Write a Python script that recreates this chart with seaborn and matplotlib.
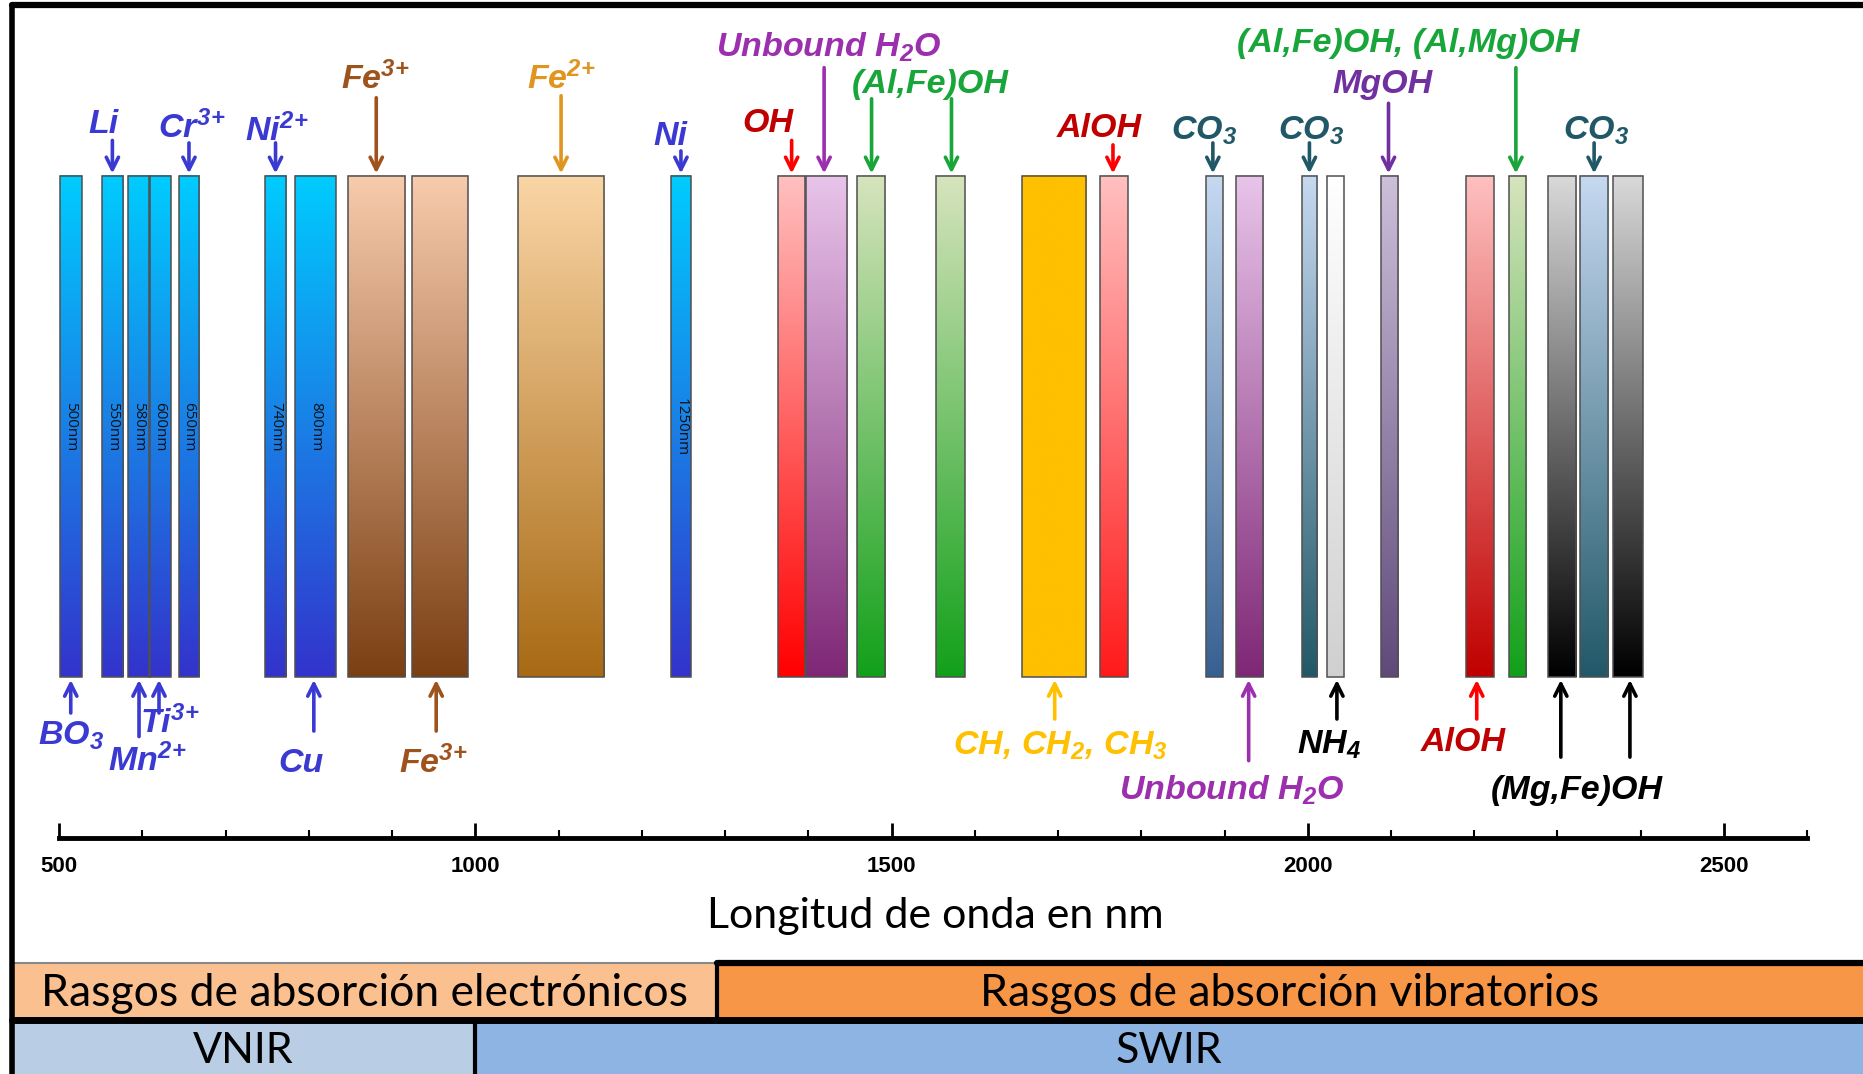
import numpy as np
import pandas as pd
import matplotlib
matplotlib.use('Agg')
import matplotlib.pyplot as plt
from matplotlib.colors import to_rgb
import seaborn as sns

# Bandas de absorcion: centro y ancho en nm
band_nm = [514, 564, 596, 621, 656, 760, 808, 881, 958, 1103, 1247,
           1380, 1422, 1475, 1571, 1695, 1767, 1888, 1930, 2002, 2033,
           2098, 2207, 2252, 2305, 2344, 2385]
band_width = [26, 26, 26, 26, 25, 26, 49, 69, 67, 104, 24,
              33, 50, 34, 34, 77, 33, 20, 33, 19, 20,
              21, 33, 21, 34, 34, 36]
band_tag = ['500nm', '550nm', '580nm', '600nm', '650nm', '740nm', '800nm', '', '', '', '1250nm',
            '', '', '', '', '', '', '', '', '', '',
            '', '', '', '', '', '']
# color arriba / abajo del degradado
band_top = ['#00CCFF'] * 7 + ['#F8CBAD', '#F8CBAD', '#FAD5A5', '#00CCFF',
            '#FFC0C0', '#E8C4EA', '#D7E4BD', '#D7E4BD', '#FFC000', '#FFC0C0',
            '#C6D9F1', '#E8C4EA', '#C6D9F1', '#FFFFFF', '#CCC0DA', '#FFC0C0',
            '#D7E4BD', '#D9D9D9', '#C6D9F1', '#D9D9D9']
band_bottom = ['#3333CC'] * 7 + ['#7B3F12', '#7B3F12', '#A86A14', '#3333CC',
               '#FF0000', '#7F2776', '#12A01A', '#12A01A', '#FFC000', '#FF1A1A',
               '#376092', '#7F2776', '#215868', '#D0D0D0', '#5F497A', '#C00000',
               '#12A01A', '#000000', '#215868', '#000000']

# Regiones del espectro
feature_names = ['Rasgos de absorción electrónicos', 'Rasgos de absorción vibratorios']
feature_edges = [443, 1290, 2667]
range_names = ['VNIR', 'SWIR']
range_edges = [443, 1000, 2667]

df = pd.DataFrame({'nm': band_nm, 'width': band_width, 'tag': band_tag,
                   'top': band_top, 'bottom': band_bottom})

sns.set_theme(style='white')
plt.rcParams['font.family'] = ['Liberation Sans', 'DejaVu Sans']
plt.rcParams['mathtext.fontset'] = 'custom'
for k in ['rm', 'it', 'bf', 'sf']:
    plt.rcParams['mathtext.' + k] = 'Liberation Sans:bold:italic'

fig = plt.figure(figsize=(18.63, 10.74), dpi=100)
ax = fig.add_axes([0, 0, 1, 1])
XLIM = (429, 2667)
YLIM = (-0.791, 1.351)

# barras con degradado vertical
bars = ax.bar(df['nm'], 1, width=df['width'], bottom=0, facecolor='none',
              edgecolor='#505050', linewidth=1.1, zorder=3)
for patch, (_, row) in zip(bars, df.iterrows()):
    c_top = np.array(to_rgb(row['top']))
    c_bot = np.array(to_rgb(row['bottom']))
    t = np.linspace(0, 1, 256)[:, None]
    grad = (c_bot * (1 - t) + c_top * t)[:, None, :]
    x0 = patch.get_x()
    ax.imshow(grad, extent=(x0, x0 + patch.get_width(), 0, 1), origin='lower',
              aspect='auto', interpolation='bilinear', zorder=2)
    if row['tag']:
        ax.text(row['nm'], 0.5, row['tag'], rotation=270, ha='center', va='center',
                fontsize=11, family='Open Sans', color='#111111', zorder=4)

blue = '#3A3AD2'
brown = '#9E521C'
orange = '#E0951F'
red_t = '#C00000'
purple = '#9B2FAE'
green = '#18A53A'
teal = '#215868'
mg = '#7030A0'
yellow = '#FFC000'


def label(txt, x, y, color, size=24.5):
    ax.text(x, y, txt, ha='center', va='center', fontsize=size, color=color,
            fontweight='bold', fontstyle='italic', family='Liberation Sans', zorder=5)


def arrow(x, y0, y1, color):
    ax.annotate('', xy=(x, y1), xytext=(x, y0),
                arrowprops=dict(arrowstyle='->', color=color, lw=2.6,
                                mutation_scale=22, shrinkA=0, shrinkB=0), zorder=5)


# etiquetas superiores
top_labels = [
    ('Li', 553, 1.102, blue, [564], 1.071),
    ('Cr$^{3\\!+}$', 659, 1.097, blue, [656], 1.066),
    ('Ni$^{2\\!+}$', 762, 1.09, blue, [760], 1.066),
    ('Fe$^{3\\!+}$', 880, 1.194, brown, [881], 1.156),
    ('Fe$^{2\\!+}$', 1104, 1.194, orange, [1103], 1.16),
    ('Ni', 1234, 1.078, blue, [1247], 1.05),
    ('OH', 1352, 1.104, red_t, [1380], 1.071),
    ('Unbound H$_2$O', 1424, 1.256, purple, [1419], 1.216),
    ('(Al,Fe)OH', 1546, 1.182, green, [1476, 1572], 1.154),
    ('AlOH', 1749, 1.095, red_t, [1766], 1.062),
    ('CO$_3$', 1875, 1.09, teal, [1886], 1.066),
    ('CO$_3$', 2004, 1.09, teal, [2002], 1.066),
    ('CO$_3$', 2346, 1.09, teal, [2344], 1.066),
    ('(Al,Fe)OH, (Al,Mg)OH', 2120, 1.265, green, [2250], 1.216),
    ('MgOH', 2090, 1.182, mg, [2097], 1.145),
]
arrow_col = {red_t: '#FF0000'}
for txt, x, y, c, xs, y0 in top_labels:
    label(txt, x, y, c)
    for xa in xs:
        arrow(xa, y0, 1.005, arrow_col.get(c, c))

# etiquetas inferiores
bottom_labels = [
    ('BO$_3$', 514, -0.117, blue, [514], -0.071),
    ('Ti$^{3\\!+}$', 633, -0.09, blue, [620], -0.071),
    ('Mn$^{2\\!+}$', 606, -0.166, blue, [596], -0.118),
    ('Cu', 790, -0.171, blue, [806], -0.107),
    ('Fe$^{3\\!+}$', 950, -0.171, brown, [953], -0.107),
    ('CH, CH$_2$, CH$_3$', 1703, -0.137, yellow, [1696], -0.083),
    ('Unbound H$_2$O', 1909, -0.225, purple, [1929], -0.166),
    ('NH$_4$', 2026, -0.135, 'black', [2035], -0.083),
    ('AlOH', 2187, -0.13, red_t, [2203], -0.083),
    ('(Mg,Fe)OH', 2323, -0.225, 'black', [2304, 2387], -0.159),
]
for txt, x, y, c, xs, y0 in bottom_labels:
    label(txt, x, y, c)
    for xa in xs:
        arrow(xa, y0, -0.005, arrow_col.get(c, c))

# titulo del eje
ax.text(1552, -0.476, 'Longitud de onda en nm', ha='center', va='center',
        fontsize=31, family='Lato', color='black')

# franjas inferiores
feat_cols = ['#FAC090', '#F79646']
for i, name in enumerate(feature_names):
    a, b = feature_edges[i], feature_edges[i + 1]
    ax.fill_between([a, b], -0.569, -0.683, color=feat_cols[i], lw=0, zorder=1)
    ax.text((a + b) / 2, -0.631, name, ha='center', va='center', fontsize=32,
            family='Lato', color='black')
range_cols = ['#B9CDE5', '#8EB4E3']
for i, name in enumerate(range_names):
    a, b = range_edges[i], range_edges[i + 1]
    ax.fill_between([a, b], -0.683, YLIM[0], color=range_cols[i], lw=0, zorder=1)
    ax.text((a + b) / 2, -0.746, name, ha='center', va='center', fontsize=31,
            family='Lato', color='black')

mid = feature_edges[1]
ax.plot([443, mid], [-0.569, -0.569], color='#888888', lw=1.5, zorder=6)
ax.plot([mid, 2667], [-0.569, -0.569], color='black', lw=4.5, zorder=6)
ax.plot([443, 2667], [-0.683, -0.683], color='black', lw=5, zorder=6)
ax.plot([mid, mid], [-0.569, -0.683], color='black', lw=3, zorder=6)
ax.plot([range_edges[1]] * 2, [-0.683, YLIM[0]], color='black', lw=3, zorder=6)
# marco
ax.plot([443, 443], [YLIM[0], 1.342], color='black', lw=4, zorder=6)
ax.plot([443, 2667], [1.342, 1.342], color='black', lw=4.5, zorder=6)

ax.set_xlim(*XLIM)
ax.set_ylim(*YLIM)
ax.axis('off')

# eje de longitud de onda
y_line = (-0.32 - YLIM[0]) / (YLIM[1] - YLIM[0])
ax2 = fig.add_axes([0, y_line, 1, 0.0001])
ax2.set_xlim(*XLIM)
ax2.patch.set_alpha(0)
sns.despine(ax=ax2, left=True, top=True, right=True)
ax2.spines['bottom'].set_bounds(500, 2600)
ax2.spines['bottom'].set_linewidth(3.5)
ax2.spines['bottom'].set_color('black')
ax2.set_yticks([])
ax2.set_xticks(np.arange(500, 2501, 500))
ax2.set_xticks(np.arange(600, 2601, 100), minor=True)
ax2.tick_params(axis='x', which='major', direction='in', length=11, width=2,
                pad=13, labelsize=16, colors='black', bottom=True)
ax2.tick_params(axis='x', which='minor', direction='in', length=6, width=1.5,
                bottom=True, colors='black')
for t in ax2.get_xticklabels():
    t.set_fontweight('bold')

fig.savefig('out.png', dpi=100)
